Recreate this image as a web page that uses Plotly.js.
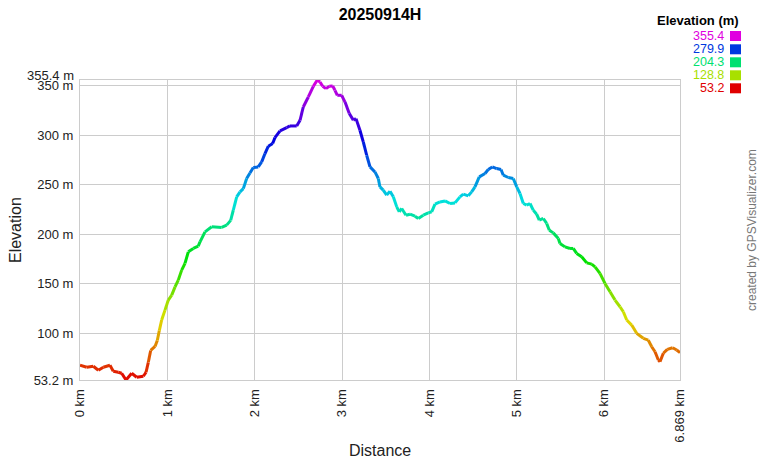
<!DOCTYPE html>
<html>
<head>
<meta charset="utf-8">
<script src="https://cdn.plot.ly/plotly-3.0.1.min.js"></script>
<style>html,body{margin:0;padding:0;background:#fff;}#chart{width:760px;height:460px;}</style>
</head>
<body>
<div id="chart"></div>
<script>
// Distance along track (km)
const distKm = [0,0.077,0.152,0.210,0.267,0.343,0.381,0.438,0.477,0.527,0.592,0.649,0.725,0.756,0.782,0.809,0.859,0.885,0.908,0.935,0.973,
1.011,1.050,1.088,1.125,1.164,1.202,1.240,1.297,1.354,1.374,1.431,1.508,1.622,1.679,1.725,1.755,1.794,1.832,1.870,1.908,1.946,1.984,
2.041,2.080,2.118,2.156,2.206,2.232,2.290,2.366,2.404,2.481,2.519,2.556,2.614,2.671,2.717,2.748,2.778,2.816,2.854,2.893,2.919,2.946,2.996,
3.034,3.083,3.129,3.160,3.205,3.243,3.282,3.320,3.377,3.415,3.434,3.472,3.511,3.549,3.587,3.626,3.655,3.683,3.732,3.778,3.835,3.873,3.930,3.987,
4.026,4.064,4.121,4.179,4.236,4.293,4.350,4.388,4.445,4.484,4.522,4.571,4.637,4.674,4.720,4.770,4.820,4.846,4.903,4.960,
5.000,5.037,5.075,5.114,5.152,5.189,5.228,5.258,5.304,5.343,5.373,5.418,5.476,5.495,5.552,5.610,5.647,5.686,5.743,5.801,5.858,5.896,5.953,
6.010,6.068,6.125,6.182,6.220,6.259,6.316,6.373,6.449,6.506,6.545,6.583,6.621,6.640,6.678,6.724,6.785,6.831,6.869];
// Elevation (m)
const elevM = [68,66,67,63,66,68,62,61,60,53.2,60,56,57,61,71,83,87,93,103,113.6,123.6,
133.7,138.7,147,153.8,163.9,170.6,182.3,185.7,188,192.4,202.4,207.5,206.9,209.2,214,224.3,237.7,242.7,246,256.2,261.8,267.2,
267.8,272.9,281.3,288.7,291.4,297.4,304.1,307.5,309.1,309.1,314.8,328.2,338.3,349,355.4,353.4,349,346.7,349,349.3,345,340,340,
333.2,321.6,315,316.5,304.8,293,279.6,267.9,262.8,256.2,247.7,244.4,239.4,243.4,237.7,227.6,222.6,226,219.2,220.2,218.2,215.9,219.2,221.5,
222.6,230.3,232.6,233.6,231,231.6,237.7,240.4,238.7,242.7,247.7,257.8,261.2,265.2,267.8,266.2,265.2,259.5,257.2,256.2,
247.7,241.1,231,229.3,231,224.3,220.2,214.2,215.9,210.9,204.1,201.4,195.8,190.8,187.3,185.7,185.7,180.7,177.3,171.2,169.9,167.2,160.6,
150.5,142.1,133.7,127,121.9,113.6,108.5,100.2,95.2,93.4,86.7,81.7,73.3,71.6,80.1,84.1,85.7,83.4,80.7];

// y tick labels (the top one, 355.4 m, is drawn just above its tick as in the reference)
const yTickVals = [53.2,100,150,200,250,300,350,355.4];
const yTickText = ['53.2 m','100 m','150 m','200 m','250 m','300 m','350 m',''];
const yTopLabel = '355.4 m';
const xTickVals = [0,1,2,3,4,5,6,6.869];
const xTickText = ['0 km','1 km','2 km','3 km','4 km','5 km','6 km','6.869 km'];
const legendVals = [355.4,279.9,204.3,128.8,53.2];

const eMin = Math.min(...elevM), eMax = Math.max(...elevM);
function colorFor(e){
  let f = (e - eMin) / (eMax - eMin); f = Math.max(0, Math.min(1, f));
  const h = 300 * f, v = 224;
  const hp = h / 60, x = 1 - Math.abs(hp % 2 - 1);
  let r=0,g=0,b=0;
  if (hp < 1){r=1;g=x;} else if (hp < 2){r=x;g=1;} else if (hp < 3){g=1;b=x;}
  else if (hp < 4){g=x;b=1;} else if (hp < 5){r=x;b=1;} else {r=1;b=x;}
  return 'rgb(' + Math.round(r*v) + ',' + Math.round(g*v) + ',' + Math.round(b*v) + ')';
}

const traces = [];
for (let i = 0; i < distKm.length - 1; i++){
  traces.push({
    type:'scatter', mode:'lines',
    x:[distKm[i], distKm[i+1]], y:[elevM[i], elevM[i+1]],
    line:{color: colorFor((elevM[i]+elevM[i+1])/2), width:3},
    showlegend:false, hoverinfo:'skip'
  });
}

const annotations = [
  {text:'Distance', xref:'paper', yref:'paper', x:0.5, y:(380-450)/300, xanchor:'center', yanchor:'middle', showarrow:false, font:{size:16, color:'#222'}},
  {text:'Elevation', xref:'paper', yref:'paper', x:(15-80)/600, y:0.5, textangle:-90, xanchor:'center', yanchor:'middle', showarrow:false, font:{size:16, color:'#222'}},
  {text:yTopLabel, xref:'paper', yref:'paper', x:(76-80)/600, y:(380-75)/300, xanchor:'right', yanchor:'middle', showarrow:false, font:{size:13, color:'#222'}},
  {text:'<b>Elevation (m)</b>', xref:'paper', yref:'paper', x:(741-80)/600, y:(380-20)/300, xanchor:'right', yanchor:'middle', showarrow:false, font:{size:13, color:'#000'}},
  {text:'created by GPSVisualizer.com', xref:'paper', yref:'paper', x:(752-80)/600, y:(380-230)/300, textangle:-90, xanchor:'center', yanchor:'middle', showarrow:false, font:{size:12, color:'#777'}}
];
const shapes = [];
const rowY = [36, 49.3, 62.3, 75.3, 88.3];
legendVals.forEach((v, k) => {
  const c = colorFor(v);
  annotations.push({text:String(v), xref:'paper', yref:'paper', x:(726-80)/600, y:(380-rowY[k])/300, xanchor:'right', yanchor:'middle', showarrow:false, font:{size:12.5, color:c}});
  shapes.push({type:'rect', xref:'paper', yref:'paper', x0:(730-80)/600, x1:(741-80)/600, y0:(380-rowY[k]-5)/300, y1:(380-rowY[k]+5)/300, fillcolor:c, line:{width:0}});
});

const layout = {
  width:760, height:460,
  margin:{l:80, r:80, t:80, b:80, pad:0},
  paper_bgcolor:'#fff', plot_bgcolor:'#fff',
  font:{family:'Arial, "Liberation Sans", sans-serif', size:13, color:'#222'},
  title:{text:'<b>20250914H</b>', x:0.5, xanchor:'center', y:1-14/460, yanchor:'middle', font:{size:16, color:'#000'}},
  xaxis:{range:[0,6.869], tickvals:xTickVals, ticktext:xTickText, tickangle:-90, showgrid:true, gridcolor:'#ccc', gridwidth:1,
    zeroline:false, showline:true, linecolor:'#ccc', mirror:true, ticks:'outside', ticklen:3, tickcolor:'#fff', tickfont:{size:13, color:'#222'}, fixedrange:true},
  yaxis:{range:[53.2,355.4], tickvals:yTickVals, ticktext:yTickText, showgrid:true, gridcolor:'#ccc', gridwidth:1,
    zeroline:false, showline:true, linecolor:'#ccc', mirror:true, ticks:'outside', ticklen:3, tickcolor:'#fff', tickfont:{size:13, color:'#222'}, fixedrange:true},
  annotations: annotations,
  shapes: shapes
};
Plotly.newPlot('chart', traces, layout, {staticPlot:true, displayModeBar:false});
</script>
</body>
</html>
